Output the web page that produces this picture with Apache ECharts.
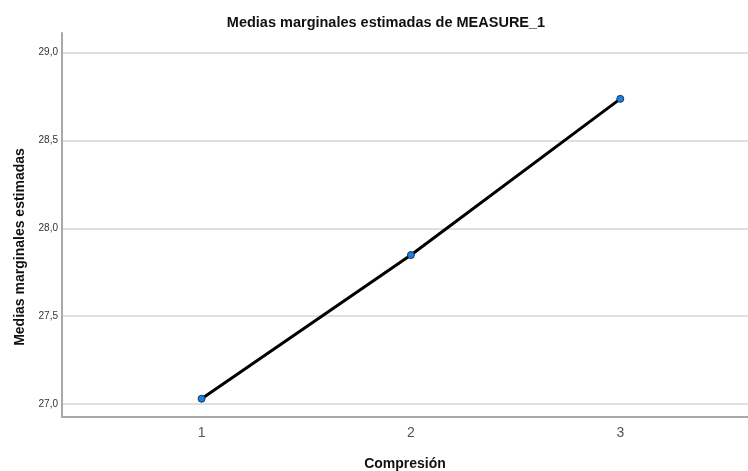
<!DOCTYPE html>
<html>
<head>
<meta charset="utf-8">
<script src="https://cdn.jsdelivr.net/npm/echarts@6/dist/echarts.min.js"></script>
<style>html,body{margin:0;padding:0;background:#fff}#c{width:748px;height:471px}</style>
</head>
<body>
<div id="c"></div>
<script>
const categories = [1, 2, 3];
const values = [27.03, 27.848, 28.737];
const yTicks = [27.0, 27.5, 28.0, 28.5, 29.0];

const chart = echarts.init(document.getElementById('c'), null, {renderer: 'canvas'});
chart.setOption({
  animation: false,
  backgroundColor: '#ffffff',
  title: {
    text: 'Medias marginales estimadas de MEASURE_1',
    left: 381, top: 10, textAlign: 'center',
    textStyle: {fontFamily: 'Liberation Sans', fontSize: 14.5, fontWeight: 'bold', color: '#111'}
  },
  grid: {left: 62, top: 33, right: 0, bottom: 54, containLabel: false, outerBoundsMode: 'none'},
  xAxis: {
    type: 'value', min: 1/3, max: 3.61,
    name: 'Compresión', nameLocation: 'middle', nameGap: 40,
    nameTextStyle: {fontFamily: 'Liberation Sans', fontSize: 14, fontWeight: 'bold', color: '#111'},
    axisLine: {show: true, lineStyle: {color: '#a8a8a8', width: 2}},
    axisTick: {show: false, customValues: categories},
    splitLine: {show: false},
    axisLabel: {customValues: categories, fontFamily: 'Liberation Sans', fontSize: 14, color: '#555', margin: 9,
      formatter: v => String(v)}
  },
  yAxis: {
    type: 'value', min: 26.926, max: 29.112,
    name: 'Medias marginales estimadas', nameLocation: 'middle', nameGap: 35, nameRotate: 90,
    nameTextStyle: {fontFamily: 'Liberation Sans', fontSize: 14, fontWeight: 'bold', color: '#111', padding: [0, 44, 0, 0]},
    axisLine: {show: true, lineStyle: {color: '#a8a8a8', width: 2}},
    axisTick: {show: false, customValues: yTicks},
    splitLine: {show: true, lineStyle: {color: '#d6d6d6', width: 1.5}},
    axisLabel: {customValues: yTicks, fontFamily: 'Liberation Sans', fontSize: 10, color: '#333', margin: 4,
      formatter: v => v.toFixed(1).replace('.', ',')}
  },
  series: [{
    type: 'line',
    data: categories.map((c, i) => [c, values[i]]),
    lineStyle: {color: '#000', width: 3},
    symbol: 'circle', symbolSize: 7,
    itemStyle: {color: '#1f7fd6', borderColor: '#0d3b66', borderWidth: 1},
    z: 5
  }]
});
</script>
</body>
</html>
